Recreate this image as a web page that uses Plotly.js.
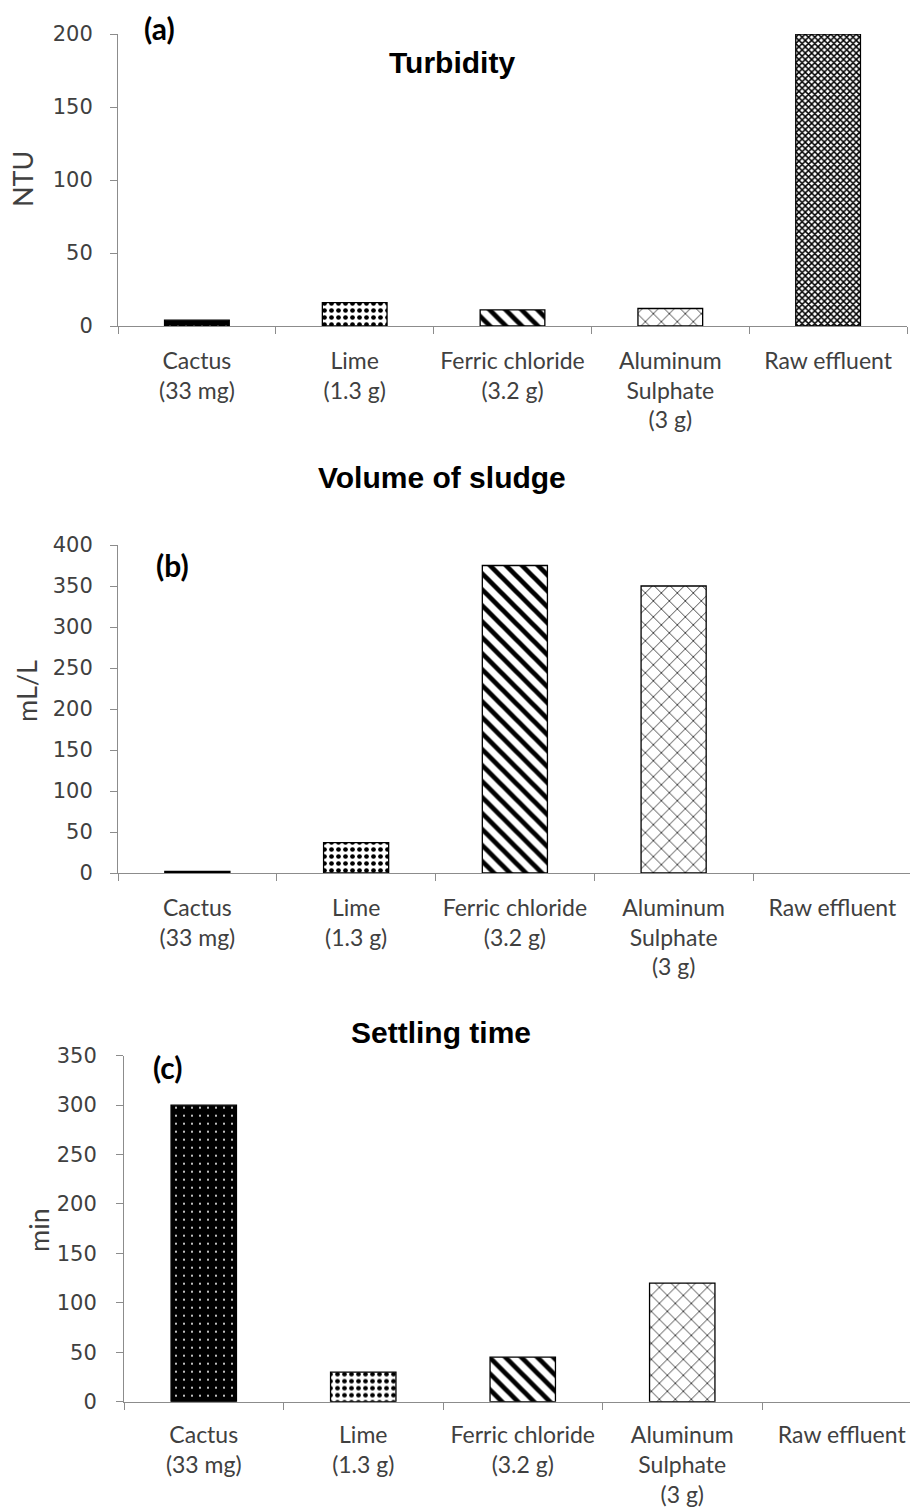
<!DOCTYPE html>
<html>
<head>
<meta charset="utf-8">
<script src="https://cdn.plot.ly/plotly-3.0.1.min.js"></script>
<style>html,body{margin:0;padding:0;background:#fff;}#chart{width:910px;height:1512px;}</style>
</head>
<body>
<div id="chart"></div>
<script>
// ---- data ----
const categories = ["Cactus<br>(33 mg)", "Lime<br>(1.3 g)", "Ferric chloride<br>(3.2 g)", "Aluminum<br>Sulphate<br>(3 g)", "Raw effluent"];
const turbidityNTU = [4, 16, 11, 12, 200];
const sludgeMlPerL = [2, 37, 375, 350, null];
const settlingMin = [300, 30, 45, 120, null];
const panelTitles = ["Turbidity", "Volume of sludge", "Settling time"];
const panelLetters = ["(a)", "(b)", "(c)"];
const yTitles = ["NTU", "mL/L", "min"];

// ---- styles ----
const patShape = [".", ".", "\\", "x", "x"];
const patBg = ["#000000", "#ffffff", "#ffffff", "#ffffff", "#ffffff"];
const patFg = ["#ffffff", "#000000", "#000000", "#222222", "#000000"];
const patSize = [8, 7, 11.3, 11.3, 4.5];
const patSolid = [0.05, 0.36, 0.42, 0.14, 0.55];

const W = 910, H = 1512;
const px = v => v / W;
const py = v => 1 - v / H;

function barTrace(vals, xa, ya) {
  return {
    type: "bar", x: categories, y: vals, xaxis: xa, yaxis: ya,
    width: 0.41,
    marker: {
      color: "#ffffff",
      line: {color: "#000000", width: 1.3},
      pattern: {shape: patShape, bgcolor: patBg, fgcolor: patFg, size: patSize, solidity: patSolid, fillmode: "replace"}
    },
    hoverinfo: "x+y"
  };
}

const tickNumFont = {family: "DejaVu Sans, Verdana, sans-serif", size: 21, color: "#404040"};
const catFont = {family: "Lato, Calibri, sans-serif", size: 23, color: "#404040"};
const axisColor = "#8c8c8c";

function xax(domain, rangeEnd, anchor, standoff) {
  return {
    domain: domain, anchor: anchor, type: "category", range: [-0.5, rangeEnd],
    tickson: "boundaries", ticks: "outside", ticklen: 7, tickcolor: axisColor, tickwidth: 1,
    showline: true, linecolor: axisColor, linewidth: 1, showgrid: false, zeroline: false,
    tickfont: catFont, tickangle: 0, ticklabelstandoff: standoff, fixedrange: true
  };
}
function yax(domain, max, anchor, standoff) {
  return {
    domain: domain, anchor: anchor, range: [0, max], dtick: 50, tick0: 0,
    ticks: "outside", ticklen: 7, tickcolor: axisColor, tickwidth: 1,
    showline: true, linecolor: axisColor, linewidth: 1, showgrid: false, zeroline: false,
    tickfont: tickNumFont, ticklabelstandoff: standoff, fixedrange: true
  };
}

const data = [
  barTrace(turbidityNTU, "x", "y"),
  barTrace(sludgeMlPerL, "x2", "y2"),
  barTrace(settlingMin, "x3", "y3")
];

const titleFont = {family: "Liberation Sans, Arial, sans-serif", size: 30, color: "#000000"};
const letterFont = {family: "Lato, Calibri, sans-serif", size: 30, color: "#000000"};
const yTitleFont = {family: "Lato, Calibri, sans-serif", size: 27, color: "#404040"};

function ann(text, x, y, font, angle) {
  return {text: text, x: px(x), y: py(y), xref: "paper", yref: "paper", xanchor: "center", yanchor: "middle",
          showarrow: false, font: font, textangle: angle || 0};
}

const layout = {
  width: W, height: H,
  margin: {l: 0, r: 0, t: 0, b: 0},
  paper_bgcolor: "#ffffff", plot_bgcolor: "#ffffff",
  showlegend: false,
  xaxis: xax([px(118), px(907)], 4.5, "y", 14),
  yaxis: yax([py(326), py(34)], 200, "x", 13),
  xaxis2: xax([px(118), 1], -0.5 + (910 - 118) / 158.75, "y2", 14),
  yaxis2: yax([py(873), py(545)], 400, "x2", 13),
  xaxis3: xax([px(124), 1], -0.5 + (910 - 124) / 159.5, "y3", 13),
  yaxis3: yax([py(1401.7), py(1055.7)], 350, "x3", 15),
  annotations: [
    ann("<b>" + panelTitles[0] + "</b>", 452, 63, titleFont),
    ann("<b>" + panelTitles[1] + "</b>", 442, 477, titleFont),
    ann("<b>" + panelTitles[2] + "</b>", 441, 1032, titleFont),
    ann("<b>" + panelLetters[0] + "</b>", 159, 28, letterFont),
    ann("<b>" + panelLetters[1] + "</b>", 172, 565, letterFont),
    ann("<b>" + panelLetters[2] + "</b>", 168, 1067, letterFont),
    ann(yTitles[0], 23, 179, yTitleFont, -90),
    ann(yTitles[1], 26, 691, yTitleFont, -90),
    ann(yTitles[2], 38, 1230, yTitleFont, -90)
  ]
};

Plotly.newPlot("chart", data, layout, {displayModeBar: false, staticPlot: true});
</script>
</body>
</html>
